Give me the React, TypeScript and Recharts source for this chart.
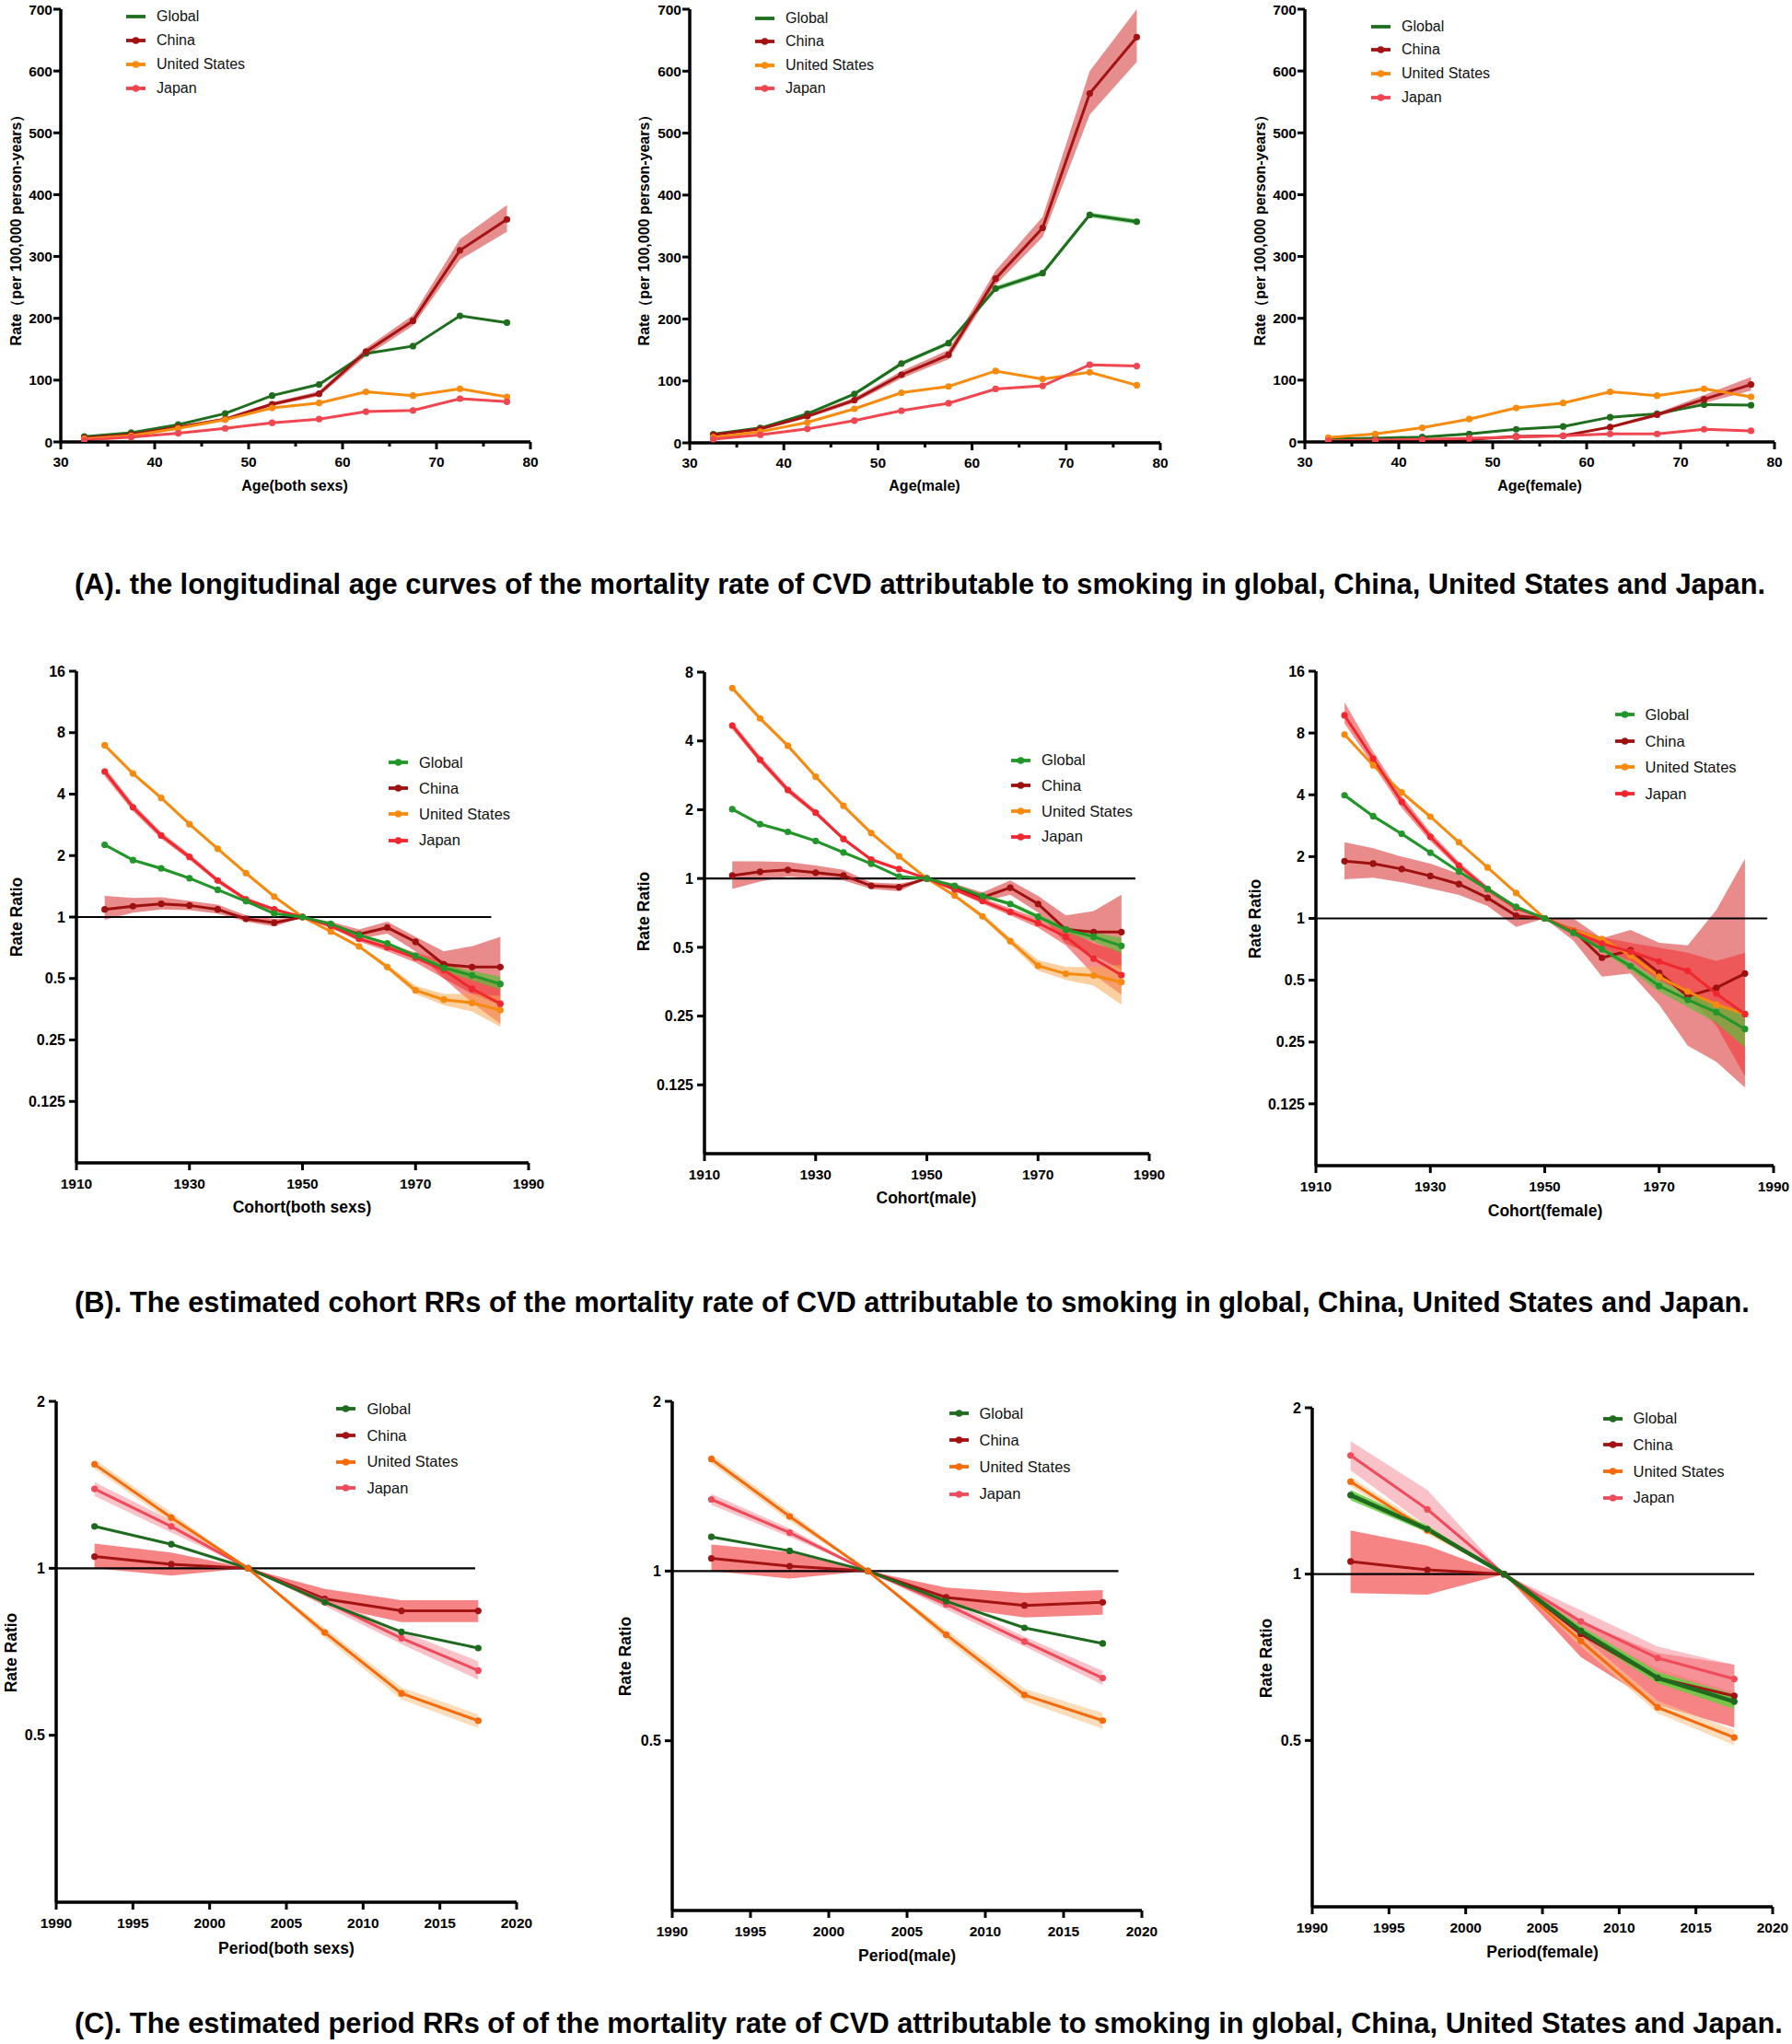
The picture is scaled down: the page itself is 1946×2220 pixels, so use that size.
import React from 'react';
import { ComposedChart, Line, Area, XAxis, YAxis, ReferenceLine, Legend } from 'recharts';

const FONT = '"Liberation Sans", Arial, Helvetica, sans-serif';

// x positions (age group / birth cohort / period midpoints)
const AGE = [32.5, 37.5, 42.5, 47.5, 52.5, 57.5, 62.5, 67.5, 72.5, 77.5];
const COHORT = [1915, 1920, 1925, 1930, 1935, 1940, 1945, 1950, 1955, 1960, 1965, 1970, 1975, 1980, 1985];
const PERIOD = [1992.5, 1997.5, 2002.5, 2007.5, 2012.5, 2017.5];

// tick labels
const AGE_TICKS = [30, 35, 40, 45, 50, 55, 60, 65, 70, 75, 80];
const RATE_TICKS = [0, 100, 200, 300, 400, 500, 600, 700];
const COHORT_TICKS = [1910, 1930, 1950, 1970, 1990];
const RR16_TICKS = [0.125, 0.25, 0.5, 1, 2, 4, 8, 16];
const RR8_TICKS = [0.125, 0.25, 0.5, 1, 2, 4, 8];
const PERIOD_TICKS = [1990, 1995, 2000, 2005, 2010, 2015, 2020];
const RR2_TICKS = [0.5, 1, 2];

const NAMES = ['Global', 'China', 'United States', 'Japan'];

// (A) age curves, both sexes
const A_BOTH_GLOBAL = [8.7, 15, 28, 46, 75, 93, 143, 155, 204, 193];
const A_BOTH_CHINA = [6.7, 12, 24, 37, 61, 78, 146, 196, 310, 360];
const A_BOTH_CHINA_LO = [5.5, 10.5, 22, 35, 58, 74, 139, 188, 295, 340];
const A_BOTH_CHINA_HI = [8, 13.5, 26, 39, 64, 82, 152, 205, 328, 383];
const A_BOTH_US = [5, 10, 22, 36, 55, 63, 81, 75, 86, 73];
const A_BOTH_JAPAN = [3, 8, 14, 22, 31, 37, 49, 51, 70, 65];

// (A) male
const A_MALE_GLOBAL = [14, 24, 47, 79, 128, 161, 249, 274, 368, 357];
const A_MALE_GLOBAL_LO = [13, 23, 45, 77, 125, 158, 245, 270, 364, 353];
const A_MALE_GLOBAL_HI = [15, 25, 49, 81, 131, 164, 253, 278, 372, 361];
const A_MALE_CHINA = [13, 22.5, 43, 69, 110, 142, 265, 347, 564, 655];
const A_MALE_CHINA_LO = [11, 20, 40, 65, 104, 135, 255, 332, 530, 615];
const A_MALE_CHINA_HI = [15, 25, 46, 73, 116, 150, 278, 365, 600, 700];
const A_MALE_US = [9, 18, 33, 55, 81, 91, 116, 103, 114, 93];
const A_MALE_JAPAN = [6, 13, 22.5, 36, 52, 64, 87, 92, 126, 124];

// (A) female
const A_FEM_GLOBAL = [5, 6, 8, 13, 20.5, 25, 40, 45.6, 60.5, 59.5];
const A_FEM_CHINA = [1, 1.5, 2.5, 4, 9, 10, 24, 44, 69, 93];
const A_FEM_CHINA_LO = [0.5, 1, 2, 3, 8, 9, 22, 41, 63, 83];
const A_FEM_CHINA_HI = [1.5, 2, 3, 5, 10, 11, 26, 47, 76, 105];
const A_FEM_US = [7, 13, 23, 37, 55, 63, 81, 75, 86, 73];
const A_FEM_JAPAN = [2, 3, 4, 6, 8, 10, 13, 13, 20.5, 18];

// (B) cohort RR, both sexes
const B_BOTH_GLOBAL = [2.26, 1.9, 1.73, 1.55, 1.36, 1.195, 1.04, 1, 0.926, 0.816, 0.743, 0.646, 0.564, 0.518, 0.47];
const B_BOTH_GLOBAL_LO = [2.22, 1.87, 1.7, 1.53, 1.34, 1.18, 1.03, 1, 0.915, 0.805, 0.73, 0.63, 0.545, 0.49, 0.44];
const B_BOTH_GLOBAL_HI = [2.3, 1.93, 1.76, 1.57, 1.38, 1.21, 1.05, 1, 0.937, 0.827, 0.756, 0.66, 0.583, 0.545, 0.51];
const B_BOTH_CHINA = [1.09, 1.13, 1.16, 1.14, 1.09, 0.979, 0.938, 1, 0.915, 0.823, 0.888, 0.756, 0.586, 0.569, 0.569];
const B_BOTH_CHINA_LO = [0.97, 1.05, 1.09, 1.08, 1.04, 0.95, 0.9, 1, 0.88, 0.78, 0.83, 0.68, 0.5, 0.42, 0.37];
const B_BOTH_CHINA_HI = [1.27, 1.24, 1.25, 1.2, 1.15, 1.02, 0.98, 1, 0.95, 0.87, 0.95, 0.8, 0.68, 0.72, 0.8];
const B_BOTH_US = [6.94, 5.05, 3.83, 2.85, 2.16, 1.64, 1.26, 1, 0.85, 0.718, 0.569, 0.437, 0.394, 0.38, 0.35];
const B_BOTH_US_LO = [6.8, 4.95, 3.76, 2.8, 2.12, 1.61, 1.24, 1, 0.84, 0.705, 0.555, 0.42, 0.37, 0.345, 0.29];
const B_BOTH_US_HI = [7.1, 5.15, 3.9, 2.9, 2.2, 1.67, 1.28, 1, 0.86, 0.73, 0.585, 0.46, 0.42, 0.42, 0.41];
const B_BOTH_JAPAN = [5.16, 3.45, 2.51, 1.97, 1.51, 1.22, 1.09, 1, 0.907, 0.782, 0.71, 0.633, 0.55, 0.445, 0.376];
const B_BOTH_JAPAN_LO = [4.9, 3.3, 2.42, 1.91, 1.47, 1.19, 1.07, 1, 0.89, 0.76, 0.68, 0.6, 0.5, 0.38, 0.3];
const B_BOTH_JAPAN_HI = [5.4, 3.6, 2.6, 2.03, 1.55, 1.25, 1.11, 1, 0.925, 0.8, 0.74, 0.67, 0.61, 0.52, 0.48];

// (B) male
const B_MALE_GLOBAL = [2.01, 1.73, 1.6, 1.46, 1.3, 1.16, 1.02, 1, 0.929, 0.839, 0.774, 0.68, 0.598, 0.556, 0.507];
const B_MALE_GLOBAL_LO = [1.98, 1.71, 1.58, 1.44, 1.28, 1.15, 1.01, 1, 0.92, 0.83, 0.76, 0.665, 0.58, 0.53, 0.47];
const B_MALE_GLOBAL_HI = [2.04, 1.75, 1.62, 1.48, 1.32, 1.17, 1.03, 1, 0.94, 0.85, 0.79, 0.695, 0.615, 0.58, 0.55];
const B_MALE_CHINA = [1.03, 1.07, 1.09, 1.06, 1.03, 0.929, 0.916, 1, 0.916, 0.826, 0.912, 0.774, 0.598, 0.583, 0.583];
const B_MALE_CHINA_LO = [0.9, 0.97, 1.02, 1.0, 0.98, 0.9, 0.88, 1, 0.88, 0.79, 0.85, 0.71, 0.52, 0.46, 0.4];
const B_MALE_CHINA_HI = [1.19, 1.19, 1.18, 1.14, 1.09, 0.96, 0.95, 1, 0.95, 0.87, 0.98, 0.84, 0.69, 0.72, 0.85];
const B_MALE_US = [6.81, 5.02, 3.81, 2.79, 2.08, 1.58, 1.25, 1, 0.842, 0.683, 0.532, 0.415, 0.383, 0.376, 0.352];
const B_MALE_US_LO = [6.65, 4.9, 3.73, 2.74, 2.05, 1.56, 1.23, 1, 0.83, 0.67, 0.515, 0.395, 0.36, 0.34, 0.28];
const B_MALE_US_HI = [6.97, 5.14, 3.9, 2.85, 2.12, 1.61, 1.27, 1, 0.855, 0.7, 0.55, 0.44, 0.41, 0.41, 0.42];
const B_MALE_JAPAN = [4.67, 3.31, 2.44, 1.94, 1.49, 1.21, 1.1, 1, 0.896, 0.797, 0.713, 0.639, 0.556, 0.446, 0.378];
const B_MALE_JAPAN_LO = [4.5, 3.2, 2.37, 1.89, 1.46, 1.19, 1.08, 1, 0.88, 0.775, 0.69, 0.61, 0.51, 0.38, 0.31];
const B_MALE_JAPAN_HI = [4.85, 3.43, 2.52, 1.99, 1.52, 1.23, 1.12, 1, 0.91, 0.82, 0.74, 0.67, 0.6, 0.52, 0.48];

// (B) female
const B_FEM_GLOBAL = [3.98, 3.15, 2.58, 2.09, 1.69, 1.39, 1.14, 1, 0.849, 0.708, 0.586, 0.469, 0.401, 0.349, 0.289];
const B_FEM_GLOBAL_LO = [3.9, 3.1, 2.54, 2.06, 1.67, 1.37, 1.13, 1, 0.835, 0.69, 0.56, 0.44, 0.37, 0.31, 0.235];
const B_FEM_GLOBAL_HI = [4.06, 3.2, 2.62, 2.12, 1.71, 1.41, 1.15, 1, 0.862, 0.725, 0.61, 0.5, 0.43, 0.385, 0.35];
const B_FEM_CHINA = [1.9, 1.85, 1.74, 1.61, 1.47, 1.26, 1.03, 1, 0.874, 0.643, 0.7, 0.543, 0.418, 0.459, 0.539];
const B_FEM_CHINA_LO = [1.55, 1.58, 1.5, 1.4, 1.3, 1.15, 0.91, 1, 0.78, 0.52, 0.54, 0.38, 0.24, 0.2, 0.15];
const B_FEM_CHINA_HI = [2.35, 2.2, 2.0, 1.85, 1.65, 1.4, 1.15, 1, 1.0, 0.8, 0.88, 0.76, 0.74, 1.1, 1.95];
const B_FEM_US = [7.86, 5.57, 4.11, 3.13, 2.35, 1.77, 1.33, 1, 0.874, 0.793, 0.66, 0.52, 0.44, 0.38, 0.342];
const B_FEM_JAPAN = [9.75, 6.0, 3.7, 2.5, 1.81, 1.39, 1.125, 1, 0.863, 0.754, 0.688, 0.617, 0.555, 0.43, 0.342];
const B_FEM_JAPAN_LO = [8.9, 5.6, 3.45, 2.38, 1.74, 1.35, 1.1, 1, 0.83, 0.7, 0.62, 0.5, 0.42, 0.3, 0.17];
const B_FEM_JAPAN_HI = [11.3, 6.5, 3.95, 2.63, 1.88, 1.43, 1.15, 1, 0.9, 0.81, 0.76, 0.72, 0.68, 0.62, 0.68];

// (C) period RR, both sexes
const C_BOTH_GLOBAL = [1.19, 1.105, 1, 0.869, 0.768, 0.718];
const C_BOTH_CHINA = [1.05, 1.017, 1, 0.881, 0.838, 0.838];
const C_BOTH_CHINA_LO = [1.0, 0.97, 1, 0.858, 0.8, 0.8];
const C_BOTH_CHINA_HI = [1.108, 1.067, 1, 0.918, 0.876, 0.876];
const C_BOTH_US = [1.54, 1.234, 1, 0.766, 0.595, 0.531];
const C_BOTH_US_LO = [1.51, 1.21, 1, 0.75, 0.58, 0.515];
const C_BOTH_US_HI = [1.57, 1.26, 1, 0.78, 0.61, 0.545];
const C_BOTH_JAPAN = [1.39, 1.19, 1, 0.872, 0.748, 0.654];
const C_BOTH_JAPAN_LO = [1.35, 1.16, 1, 0.855, 0.73, 0.63];
const C_BOTH_JAPAN_HI = [1.43, 1.22, 1, 0.89, 0.77, 0.68];

// (C) male
const C_MALE_GLOBAL = [1.15, 1.086, 1, 0.884, 0.793, 0.744];
const C_MALE_CHINA = [1.053, 1.02, 1, 0.898, 0.869, 0.88];
const C_MALE_CHINA_LO = [1.0, 0.97, 1, 0.865, 0.827, 0.837];
const C_MALE_CHINA_HI = [1.115, 1.08, 1, 0.935, 0.915, 0.925];
const C_MALE_US = [1.58, 1.25, 1, 0.771, 0.603, 0.543];
const C_MALE_US_LO = [1.55, 1.225, 1, 0.755, 0.588, 0.525];
const C_MALE_US_HI = [1.61, 1.275, 1, 0.787, 0.618, 0.56];
const C_MALE_JAPAN = [1.34, 1.17, 1, 0.873, 0.75, 0.646];
const C_MALE_JAPAN_LO = [1.31, 1.15, 1, 0.855, 0.735, 0.628];
const C_MALE_JAPAN_HI = [1.37, 1.19, 1, 0.89, 0.765, 0.665];

// (C) female
const C_FEM_GLOBAL = [1.39, 1.206, 1, 0.789, 0.649, 0.588];
const C_FEM_GLOBAL_LO = [1.36, 1.19, 1, 0.775, 0.635, 0.57];
const C_FEM_GLOBAL_HI = [1.42, 1.225, 1, 0.805, 0.665, 0.606];
const C_FEM_CHINA = [1.054, 1.018, 1, 0.779, 0.649, 0.602];
const C_FEM_CHINA_LO = [0.924, 0.918, 1, 0.708, 0.58, 0.528];
const C_FEM_CHINA_HI = [1.2, 1.126, 1, 0.82, 0.72, 0.686];
const C_FEM_US = [1.47, 1.2, 1, 0.757, 0.574, 0.506];
const C_FEM_US_LO = [1.44, 1.18, 1, 0.74, 0.56, 0.49];
const C_FEM_US_HI = [1.5, 1.22, 1, 0.775, 0.59, 0.522];
const C_FEM_JAPAN = [1.64, 1.31, 1, 0.821, 0.705, 0.646];
const C_FEM_JAPAN_LO = [1.54, 1.22, 1, 0.79, 0.675, 0.61];
const C_FEM_JAPAN_HI = [1.74, 1.42, 1, 0.86, 0.74, 0.685];

interface Ser {
    color: string; values: number[]; lo?: number[]; hi?: number[];
    band?: string; bandOp?: number; width?: number;
}

interface PanelCfg {
    box: [number, number, number, number];
    xs: number[];
    series: Ser[]; // Global, China, United States, Japan
    lineOrder: number[];
    xDomain: [number, number]; xTicks: number[]; minor?: boolean;
    yDomain: [number, number]; yTicks: number[]; log?: boolean;
    refTo?: number;
    legend: [number, number, number];
    plainFirst?: boolean;
    xTitle: string; xTitlePos: [number, number];
    yTitle: string; yTitlePos: [number, number];
    titleSize: number; legendSize: number;
}

const CA = { global: '#1F6E1F', china: '#A31313', us: '#F68B0E', japan: '#F04650' };
const CB = { global: '#22962A', china: '#9E1111', us: '#F68A0F', japan: '#EF2830' };
const CC = { global: '#1E6A1E', china: '#A31313', us: '#F56B0B', japan: '#EF4B5B' };

const RATE_TITLE = 'Rate\uFF08per 100,000 person-years\uFF09';

const PANELS: PanelCfg[] = [
    {
        box: [66, 10, 576, 480], xs: AGE, lineOrder: [0, 1, 2, 3],
        series: [
            { color: CA.global, values: A_BOTH_GLOBAL },
            { color: CA.china, values: A_BOTH_CHINA, lo: A_BOTH_CHINA_LO, hi: A_BOTH_CHINA_HI, band: '#DE6767', bandOp: 0.75 },
            { color: CA.us, values: A_BOTH_US },
            { color: CA.japan, values: A_BOTH_JAPAN },
        ],
        xDomain: [30, 80], xTicks: AGE_TICKS, minor: true, yDomain: [0, 700], yTicks: RATE_TICKS,
        legend: [137, 18.3, 25.8], plainFirst: true,
        xTitle: 'Age(both sexs)', xTitlePos: [320, 527], yTitle: RATE_TITLE, yTitlePos: [17, 246],
        titleSize: 16, legendSize: 16,
    },
    {
        box: [749, 10, 1260, 481], xs: AGE, lineOrder: [0, 1, 2, 3],
        series: [
            { color: CA.global, values: A_MALE_GLOBAL, lo: A_MALE_GLOBAL_LO, hi: A_MALE_GLOBAL_HI, band: '#5CC65C', bandOp: 0.7 },
            { color: CA.china, values: A_MALE_CHINA, lo: A_MALE_CHINA_LO, hi: A_MALE_CHINA_HI, band: '#DE6767', bandOp: 0.75 },
            { color: CA.us, values: A_MALE_US },
            { color: CA.japan, values: A_MALE_JAPAN },
        ],
        xDomain: [30, 80], xTicks: AGE_TICKS, minor: true, yDomain: [0, 700], yTicks: RATE_TICKS,
        legend: [820, 19.6, 25.6], plainFirst: true,
        xTitle: 'Age(male)', xTitlePos: [1004, 527], yTitle: RATE_TITLE, yTitlePos: [699, 246],
        titleSize: 16, legendSize: 16,
    },
    {
        box: [1417, 10, 1927, 480], xs: AGE, lineOrder: [0, 1, 2, 3],
        series: [
            { color: CA.global, values: A_FEM_GLOBAL },
            { color: CA.china, values: A_FEM_CHINA, lo: A_FEM_CHINA_LO, hi: A_FEM_CHINA_HI, band: '#DE6767', bandOp: 0.75 },
            { color: CA.us, values: A_FEM_US },
            { color: CA.japan, values: A_FEM_JAPAN },
        ],
        xDomain: [30, 80], xTicks: AGE_TICKS, minor: true, yDomain: [0, 700], yTicks: RATE_TICKS,
        legend: [1489, 28.6, 25.7], plainFirst: true,
        xTitle: 'Age(female)', xTitlePos: [1672, 527], yTitle: RATE_TITLE, yTitlePos: [1368, 246],
        titleSize: 16, legendSize: 16,
    },
    {
        box: [83, 729, 574, 1263], xs: COHORT, lineOrder: [1, 2, 3, 0],
        series: [
            { color: CB.global, values: B_BOTH_GLOBAL, lo: B_BOTH_GLOBAL_LO, hi: B_BOTH_GLOBAL_HI, band: '#5DBE3A', bandOp: 0.7 },
            { color: CB.china, values: B_BOTH_CHINA, lo: B_BOTH_CHINA_LO, hi: B_BOTH_CHINA_HI, band: '#E05A5A', bandOp: 0.7 },
            { color: CB.us, values: B_BOTH_US, lo: B_BOTH_US_LO, hi: B_BOTH_US_HI, band: '#F7A850', bandOp: 0.55 },
            { color: CB.japan, values: B_BOTH_JAPAN, lo: B_BOTH_JAPAN_LO, hi: B_BOTH_JAPAN_HI, band: '#F23030', bandOp: 0.55 },
        ],
        xDomain: [1910, 1990], xTicks: COHORT_TICKS, yDomain: [0.0625, 16], yTicks: RR16_TICKS, log: true, refTo: 1983.4,
        legend: [422, 827.8, 28.3],
        xTitle: 'Cohort(both sexs)', xTitlePos: [328, 1311], yTitle: 'Rate Ratio', yTitlePos: [18, 996],
        titleSize: 17.5, legendSize: 16.5,
    },
    {
        box: [765, 730, 1248, 1253], xs: COHORT, lineOrder: [1, 2, 3, 0],
        series: [
            { color: CB.global, values: B_MALE_GLOBAL, lo: B_MALE_GLOBAL_LO, hi: B_MALE_GLOBAL_HI, band: '#5DBE3A', bandOp: 0.7 },
            { color: CB.china, values: B_MALE_CHINA, lo: B_MALE_CHINA_LO, hi: B_MALE_CHINA_HI, band: '#E05A5A', bandOp: 0.7 },
            { color: CB.us, values: B_MALE_US, lo: B_MALE_US_LO, hi: B_MALE_US_HI, band: '#F7A850', bandOp: 0.55 },
            { color: CB.japan, values: B_MALE_JAPAN, lo: B_MALE_JAPAN_LO, hi: B_MALE_JAPAN_HI, band: '#F23030', bandOp: 0.55 },
        ],
        xDomain: [1910, 1990], xTicks: COHORT_TICKS, yDomain: [0.0625, 8], yTicks: RR8_TICKS, log: true, refTo: 1987.5,
        legend: [1098, 825.6, 27.7],
        xTitle: 'Cohort(male)', xTitlePos: [1006, 1301], yTitle: 'Rate Ratio', yTitlePos: [699, 990],
        titleSize: 17.5, legendSize: 16.5,
    },
    {
        box: [1429, 729, 1926, 1266], xs: COHORT, lineOrder: [1, 2, 3, 0],
        series: [
            { color: CB.global, values: B_FEM_GLOBAL, lo: B_FEM_GLOBAL_LO, hi: B_FEM_GLOBAL_HI, band: '#5DBE3A', bandOp: 0.7 },
            { color: CB.china, values: B_FEM_CHINA, lo: B_FEM_CHINA_LO, hi: B_FEM_CHINA_HI, band: '#E05A5A', bandOp: 0.7 },
            { color: CB.us, values: B_FEM_US },
            { color: CB.japan, values: B_FEM_JAPAN, lo: B_FEM_JAPAN_LO, hi: B_FEM_JAPAN_HI, band: '#F23030', bandOp: 0.55 },
        ],
        xDomain: [1910, 1990], xTicks: COHORT_TICKS, yDomain: [0.0625, 16], yTicks: RR16_TICKS, log: true, refTo: 1988.9,
        legend: [1753.5, 776.3, 28.6],
        xTitle: 'Cohort(female)', xTitlePos: [1678, 1315], yTitle: 'Rate Ratio', yTitlePos: [1363, 998],
        titleSize: 17.5, legendSize: 16.5,
    },
    {
        box: [61, 1522, 561, 2066], xs: PERIOD, lineOrder: [1, 3, 0, 2],
        series: [
            { color: CC.global, values: C_BOTH_GLOBAL },
            { color: CC.china, values: C_BOTH_CHINA, lo: C_BOTH_CHINA_LO, hi: C_BOTH_CHINA_HI, band: '#F56565', bandOp: 0.8 },
            { color: CC.us, values: C_BOTH_US, lo: C_BOTH_US_LO, hi: C_BOTH_US_HI, band: '#F9C48E', bandOp: 0.6 },
            { color: CC.japan, values: C_BOTH_JAPAN, lo: C_BOTH_JAPAN_LO, hi: C_BOTH_JAPAN_HI, band: '#F39AA4', bandOp: 0.6 },
        ],
        xDomain: [1990, 2020], xTicks: PERIOD_TICKS, yDomain: [0.25, 2], yTicks: RR2_TICKS, log: true, refTo: 2017.3,
        legend: [365.4, 1530.2, 28.7],
        xTitle: 'Period(both sexs)', xTitlePos: [311, 2116], yTitle: 'Rate Ratio', yTitlePos: [12, 1795],
        titleSize: 17.5, legendSize: 16.5,
    },
    {
        box: [730, 1522, 1240, 2075], xs: PERIOD, lineOrder: [1, 3, 0, 2],
        series: [
            { color: CC.global, values: C_MALE_GLOBAL },
            { color: CC.china, values: C_MALE_CHINA, lo: C_MALE_CHINA_LO, hi: C_MALE_CHINA_HI, band: '#F56565', bandOp: 0.8 },
            { color: CC.us, values: C_MALE_US, lo: C_MALE_US_LO, hi: C_MALE_US_HI, band: '#F9C48E', bandOp: 0.6 },
            { color: CC.japan, values: C_MALE_JAPAN, lo: C_MALE_JAPAN_LO, hi: C_MALE_JAPAN_HI, band: '#F39AA4', bandOp: 0.6 },
        ],
        xDomain: [1990, 2020], xTicks: PERIOD_TICKS, yDomain: [0.25, 2], yTicks: RR2_TICKS, log: true, refTo: 2018.5,
        legend: [1030.5, 1534.8, 29.3],
        xTitle: 'Period(male)', xTitlePos: [985, 2124], yTitle: 'Rate Ratio', yTitlePos: [679, 1799],
        titleSize: 17.5, legendSize: 16.5,
    },
    {
        box: [1425, 1529, 1925, 2071], xs: PERIOD, lineOrder: [1, 2, 3, 0],
        series: [
            { color: CC.global, values: C_FEM_GLOBAL, lo: C_FEM_GLOBAL_LO, hi: C_FEM_GLOBAL_HI, band: '#62CF3F', bandOp: 0.85, width: 4.5 },
            { color: CC.china, values: C_FEM_CHINA, lo: C_FEM_CHINA_LO, hi: C_FEM_CHINA_HI, band: '#F56565', bandOp: 0.8 },
            { color: CC.us, values: C_FEM_US, lo: C_FEM_US_LO, hi: C_FEM_US_HI, band: '#F9C48E', bandOp: 0.6 },
            { color: CC.japan, values: C_FEM_JAPAN, lo: C_FEM_JAPAN_LO, hi: C_FEM_JAPAN_HI, band: '#F39AA4', bandOp: 0.6 },
        ],
        xDomain: [1990, 2020], xTicks: PERIOD_TICKS, yDomain: [0.25, 2], yTicks: RR2_TICKS, log: true, refTo: 2018.8,
        legend: [1740.5, 1540.6, 28.7],
        xTitle: 'Period(female)', xTitlePos: [1675, 2120], yTitle: 'Rate Ratio', yTitlePos: [1375, 1801],
        titleSize: 17.5, legendSize: 16.5,
    },
];

const CAPTIONS: Array<[string, number]> = [
    ['(A). the longitudinal age curves of the mortality rate of CVD attributable to smoking in global, China, United States and Japan.', 645],
    ['(B). The estimated cohort RRs of the mortality rate of CVD attributable to smoking in global, China, United States and Japan.', 1425],
    ['(C). The estimated period RRs of of the mortality rate of CVD attributable to smoking in global, China, United States and Japan.', 2208],
];

// margins around the plot box inside each chart
const ML = 70, MT = 14, MR = 24, MB = 50;
const BAND_ORDER = [1, 3, 2, 0];

const AgeTick = (p: any) => {
    const v = p.payload.value;
    const major = v % 10 === 0;
    const ay = p.y - 8;
    return (
        <g>
            <line x1={p.x} x2={p.x} y1={ay} y2={ay + (major ? 8 : 5)} stroke="#000" strokeWidth={3} />
            {major && (
                <text x={p.x} y={ay + 26.5} textAnchor="middle" fontSize={15.5} fontWeight={700} fontFamily={FONT} fill="#000">{v}</text>
            )}
        </g>
    );
};

function LegendBox({ series, gap, plainFirst, size }: { series: Ser[]; gap: number; plainFirst?: boolean; size: number }) {
    return (
        <div>
            {series.map((s, i) => (
                <div key={i} style={{ display: 'flex', alignItems: 'center', height: gap }}>
                    <svg width={21} height={10} style={{ display: 'block' }}>
                        <line x1={0} x2={21} y1={5} y2={5} stroke={s.color} strokeWidth={3.8} />
                        {!(plainFirst && i === 0) && <circle cx={10.5} cy={5} r={3.8} fill={s.color} />}
                    </svg>
                    <span style={{ marginLeft: 12, fontSize: size, color: '#111', fontFamily: FONT, lineHeight: 1, whiteSpace: 'nowrap' }}>{NAMES[i]}</span>
                </div>
            ))}
        </div>
    );
}

function Panel({ cfg }: { cfg: PanelCfg }) {
    const [x0, y0, x1, y1] = cfg.box;
    const left = x0 - ML, top = y0 - MT;
    const width = x1 - x0 + ML + MR, height = y1 - y0 + MT + MB;
    const rows = cfg.xs.map((x, i) => {
        const r: Record<string, any> = { x };
        cfg.series.forEach((s, k) => {
            r['s' + k] = s.values[i];
            if (s.lo && s.hi) r['b' + k] = [s.lo[i], s.hi[i]];
        });
        return r;
    });
    const ySize = cfg.minor ? 15.5 : 16;
    const tickStyle = { fontSize: ySize, fontWeight: 700, fill: '#000', fontFamily: FONT };
    const [lx, ly, gap] = cfg.legend;
    return (
        <div style={{ position: 'absolute', left, top }}>
            <ComposedChart width={width} height={height} data={rows} margin={{ top: MT, right: MR, left: 0, bottom: 0 }}>
                <XAxis
                    dataKey="x" type="number" domain={cfg.xDomain} ticks={cfg.xTicks} interval={0} allowDataOverflow
                    height={MB} axisLine={{ stroke: '#000', strokeWidth: 3.5 }}
                    tickLine={cfg.minor ? false : { stroke: '#000', strokeWidth: 3 }}
                    tickSize={8} tickMargin={cfg.minor ? 0 : 9}
                    tick={cfg.minor ? <AgeTick /> : { ...tickStyle, fontSize: 15.5 }}
                />
                <YAxis
                    type="number" scale={cfg.log ? 'log' : 'linear'} domain={cfg.yDomain} ticks={cfg.yTicks} interval={0}
                    allowDataOverflow width={ML} axisLine={{ stroke: '#000', strokeWidth: 3.5 }}
                    tickLine={{ stroke: '#000', strokeWidth: 3 }} tickSize={8} tickMargin={cfg.minor ? 1 : 4} tick={tickStyle}
                />
                {cfg.refTo !== undefined && (
                    <ReferenceLine
                        segment={[{ x: cfg.xDomain[0], y: 1 }, { x: cfg.refTo, y: 1 }]}
                        stroke="#000" strokeWidth={2.2}
                    />
                )}
                {BAND_ORDER.map(k => {
                    const s = cfg.series[k];
                    if (!s.lo) return null;
                    return (
                        <Area
                            key={'b' + k} type="linear" dataKey={'b' + k} stroke="none" fill={s.band}
                            fillOpacity={s.bandOp} isAnimationActive={false} activeDot={false} legendType="none"
                        />
                    );
                })}
                {cfg.lineOrder.map(k => {
                    const s = cfg.series[k];
                    return (
                        <Line
                            key={'s' + k} type="linear" dataKey={'s' + k} stroke={s.color} strokeWidth={s.width ?? 3}
                            dot={{ r: 3.6, fill: s.color, stroke: s.color, strokeWidth: 0 }} activeDot={false}
                            isAnimationActive={false}
                        />
                    );
                })}
                <Legend
                    layout="vertical" align="center" verticalAlign="middle"
                    wrapperStyle={{ left: lx - left, top: ly - gap / 2 - top, width: 200, height: gap * 4 }}
                    content={() => <LegendBox series={cfg.series} gap={gap} plainFirst={cfg.plainFirst} size={cfg.legendSize} />}
                />
            </ComposedChart>
        </div>
    );
}

export default function App() {
    return (
        <div style={{ position: 'absolute', left: 0, top: 0, width: 1946, height: 2220, background: '#fff', overflow: 'hidden' }}>
            {PANELS.map((p, i) => <Panel key={i} cfg={p} />)}
            <svg width={1946} height={2220} style={{ position: 'absolute', left: 0, top: 0, pointerEvents: 'none' }}>
                {PANELS.map((p, i) => (
                    <g key={i} fontFamily={FONT} fontWeight={700} fontSize={p.titleSize} fill="#000">
                        <text x={p.xTitlePos[0]} y={p.xTitlePos[1]} textAnchor="middle" dominantBaseline="central">{p.xTitle}</text>
                        <text
                            x={p.yTitlePos[0]} y={p.yTitlePos[1]} textAnchor="middle" dominantBaseline="central"
                            transform={`rotate(-90 ${p.yTitlePos[0]} ${p.yTitlePos[1]})`}
                        >{p.yTitle}</text>
                    </g>
                ))}
                {CAPTIONS.map(([t, y], i) => (
                    <text key={i} x={81} y={y} fontFamily={FONT} fontWeight={700} fontSize={30.8} fill="#000">{t}</text>
                ))}
            </svg>
        </div>
    );
}
